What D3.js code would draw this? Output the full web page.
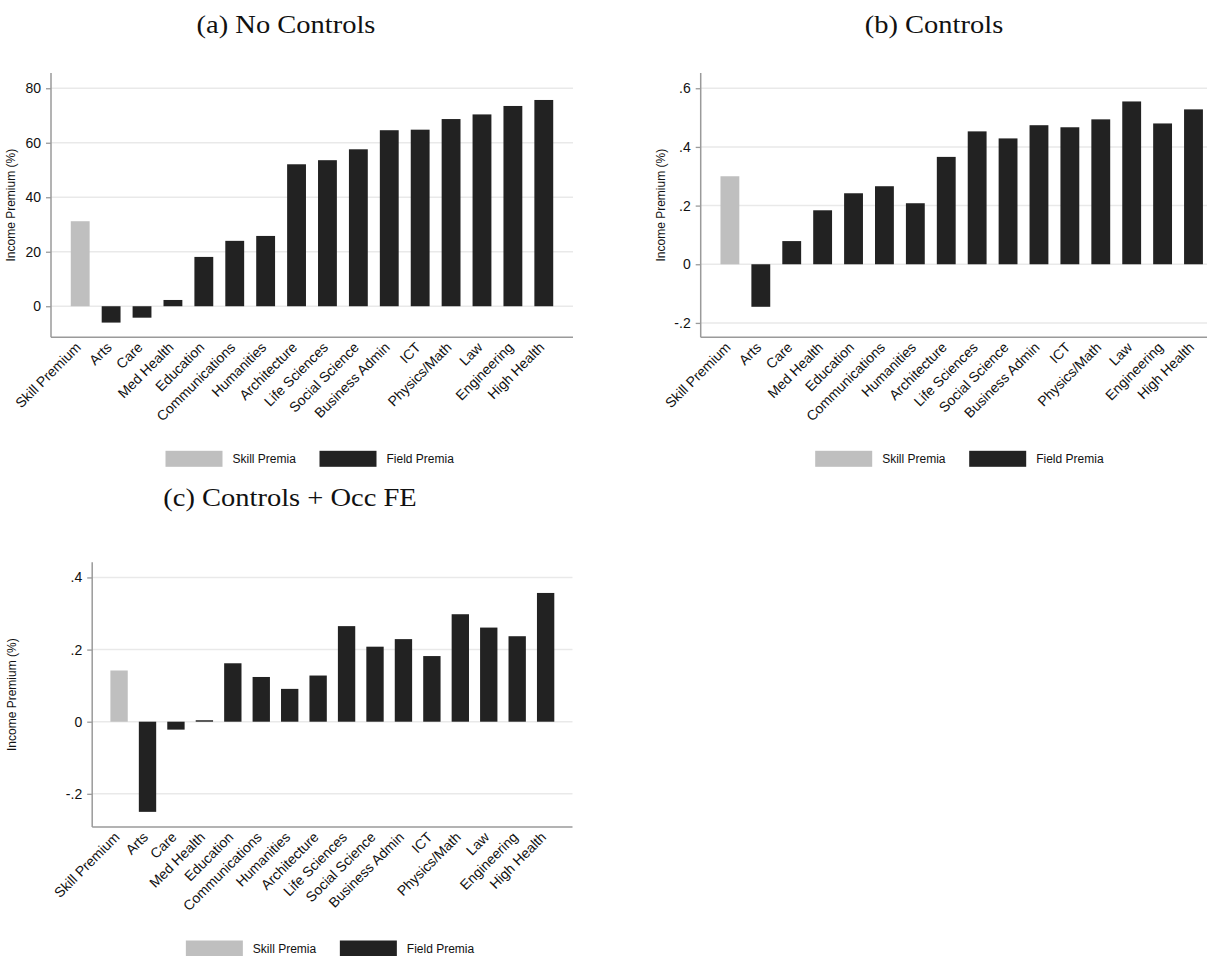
<!DOCTYPE html>
<html>
<head>
<meta charset="utf-8">
<script src="https://cdn.jsdelivr.net/npm/d3@7"></script>
<style>
  html, body { margin: 0; padding: 0; background: #fff; }
  svg { display: block; }
  .sans { font-family: "Liberation Sans", Arial, Helvetica, sans-serif; }
  .serif { font-family: "Liberation Serif", "Times New Roman", serif; }
</style>
</head>
<body>
<svg id="fig" width="1207" height="956"></svg>
<script>
// Field categories (first bar is the overall skill premium)
const categories = ["Skill Premium", "Arts", "Care", "Med Health", "Education", "Communications",
  "Humanities", "Architecture", "Life Sciences", "Social Science", "Business Admin", "ICT",
  "Physics/Math", "Law", "Engineering", "High Health"];

// (a) no controls, percent
const premiaNoControls = [31.2, -6.0, -4.2, 2.3, 18.1, 24.0, 25.8, 52.1, 53.6, 57.6, 64.6, 64.8, 68.7, 70.4, 73.5, 75.7];
// (b) with controls
const premiaControls = [0.300, -0.145, 0.079, 0.184, 0.242, 0.266, 0.208, 0.366, 0.453, 0.429, 0.474, 0.467, 0.494, 0.555, 0.480, 0.528];
// (c) with controls and occupation fixed effects
const premiaOccFE = [0.142, -0.250, -0.022, 0.004, 0.162, 0.124, 0.091, 0.128, 0.265, 0.208, 0.229, 0.182, 0.298, 0.261, 0.237, 0.357];

const ticksA = [0, 20, 40, 60, 80];
const tickLabelsA = ["0", "20", "40", "60", "80"];
const ticksB = [-0.2, 0, 0.2, 0.4, 0.6];
const tickLabelsB = ["-.2", "0", ".2", ".4", ".6"];
const ticksC = [-0.2, 0, 0.2, 0.4];
const tickLabelsC = ["-.2", "0", ".2", ".4"];

const panelTitles = ["(a) No Controls", "(b) Controls", "(c) Controls + Occ FE"];
const legendLabels = ["Skill Premia", "Field Premia"];
const yAxisTitle = "Income Premium (%)";

const SKILL_COLOR = "#bfbfbf";
const FIELD_COLOR = "#222222";
const AXIS_COLOR = "#9a9a9a";
const GRID_COLOR = "#e9e9e9";

const panels = [
  { title: panelTitles[0], values: premiaNoControls, ticks: ticksA, tickLabels: tickLabelsA,
    domain: [-11.4, 85.6], left: 51, right: 573, top: 73, bottom: 337.3,
    titleX: 286, titleY: 33, yTitleX: 11 },
  { title: panelTitles[1], values: premiaControls, ticks: ticksB, tickLabels: tickLabelsB,
    domain: [-0.249, 0.652], left: 700.7, right: 1222.7, top: 73, bottom: 337.3,
    titleX: 934, titleY: 33, yTitleX: 661 },
  { title: panelTitles[2], values: premiaOccFE, ticks: ticksC, tickLabels: tickLabelsC,
    domain: [-0.292, 0.442], left: 92.2, right: 572.5, top: 562.3, bottom: 827,
    titleX: 290, titleY: 506, yTitleX: 12.4 }
];

const svg = d3.select("#fig");

panels.forEach(p => {
  const g = svg.append("g");

  const x = d3.scaleBand()
    .domain(categories)
    .range([p.left, p.right])
    .paddingInner(0.39)
    .paddingOuter(0.64);

  const y = d3.scaleLinear()
    .domain(p.domain)
    .range([p.bottom, p.top]);

  // panel title (serif, slightly widened)
  g.append("text")
    .attr("class", "serif")
    .attr("transform", `translate(${p.titleX},${p.titleY}) scale(1.14,1)`)
    .attr("text-anchor", "middle")
    .attr("font-size", 25)
    .attr("fill", "#111")
    .text(p.title);

  // horizontal grid lines
  g.append("g")
    .selectAll("line")
    .data(p.ticks)
    .join("line")
    .attr("x1", p.left)
    .attr("x2", p.right)
    .attr("y1", d => y(d))
    .attr("y2", d => y(d))
    .attr("stroke", GRID_COLOR)
    .attr("stroke-width", 1.5);

  // bars
  g.append("g")
    .selectAll("rect")
    .data(p.values.map((v, i) => ({ cat: categories[i], v, i })))
    .join("rect")
    .attr("x", d => x(d.cat))
    .attr("width", x.bandwidth())
    .attr("y", d => Math.min(y(d.v), y(0)))
    .attr("height", d => Math.abs(y(d.v) - y(0)))
    .attr("fill", d => d.i === 0 ? SKILL_COLOR : FIELD_COLOR);

  // left axis
  const yAxis = d3.axisLeft(y)
    .tickValues(p.ticks)
    .tickFormat((d, i) => p.tickLabels[i])
    .tickSize(5)
    .tickPadding(5)
    .tickSizeOuter(0);
  const ya = g.append("g")
    .attr("transform", `translate(${p.left},0)`)
    .call(yAxis);
  ya.select(".domain").remove();
  ya.selectAll(".tick line").attr("stroke", AXIS_COLOR).attr("stroke-width", 1.3);
  ya.selectAll(".tick text")
    .attr("class", "sans")
    .attr("font-size", 14)
    .attr("fill", "#111");
  g.append("line")
    .attr("x1", p.left).attr("x2", p.left)
    .attr("y1", p.top).attr("y2", p.bottom)
    .attr("stroke", AXIS_COLOR).attr("stroke-width", 1.5);

  // bottom axis line
  g.append("line")
    .attr("x1", p.left).attr("x2", p.right)
    .attr("y1", p.bottom).attr("y2", p.bottom)
    .attr("stroke", AXIS_COLOR).attr("stroke-width", 1.5);

  // rotated category labels
  g.append("g")
    .selectAll("text")
    .data(categories)
    .join("text")
    .attr("class", "sans")
    .attr("transform", d => `translate(${x(d) + x.bandwidth() / 2 + 1.5},${p.bottom + 11}) rotate(-45)`)
    .attr("text-anchor", "end")
    .attr("font-size", 14)
    .attr("fill", "#111")
    .text(d => d);

  // y axis title
  g.append("text")
    .attr("class", "sans")
    .attr("transform", `translate(${p.yTitleX},${(p.top + p.bottom) / 2}) rotate(-90)`)
    .attr("text-anchor", "middle")
    .attr("dominant-baseline", "central")
    .attr("font-size", 12)
    .attr("fill", "#111")
    .text(yAxisTitle);

  // legend
  const cx = (p.left + p.right) / 2;
  const lx = cx - 146.5;
  const ly = p.bottom + 113.5;
  const legend = g.append("g").attr("transform", `translate(${lx},${ly})`);
  const legendItems = [
    { label: legendLabels[0], color: SKILL_COLOR, dx: 0 },
    { label: legendLabels[1], color: FIELD_COLOR, dx: 154 }
  ];
  legendItems.forEach(item => {
    legend.append("rect")
      .attr("x", item.dx).attr("y", 0)
      .attr("width", 57).attr("height", 16)
      .attr("fill", item.color);
    legend.append("text")
      .attr("class", "sans")
      .attr("x", item.dx + 67).attr("y", 8)
      .attr("dominant-baseline", "central")
      .attr("font-size", 12)
      .attr("fill", "#111")
      .text(item.label);
  });
});
</script>
</body>
</html>
